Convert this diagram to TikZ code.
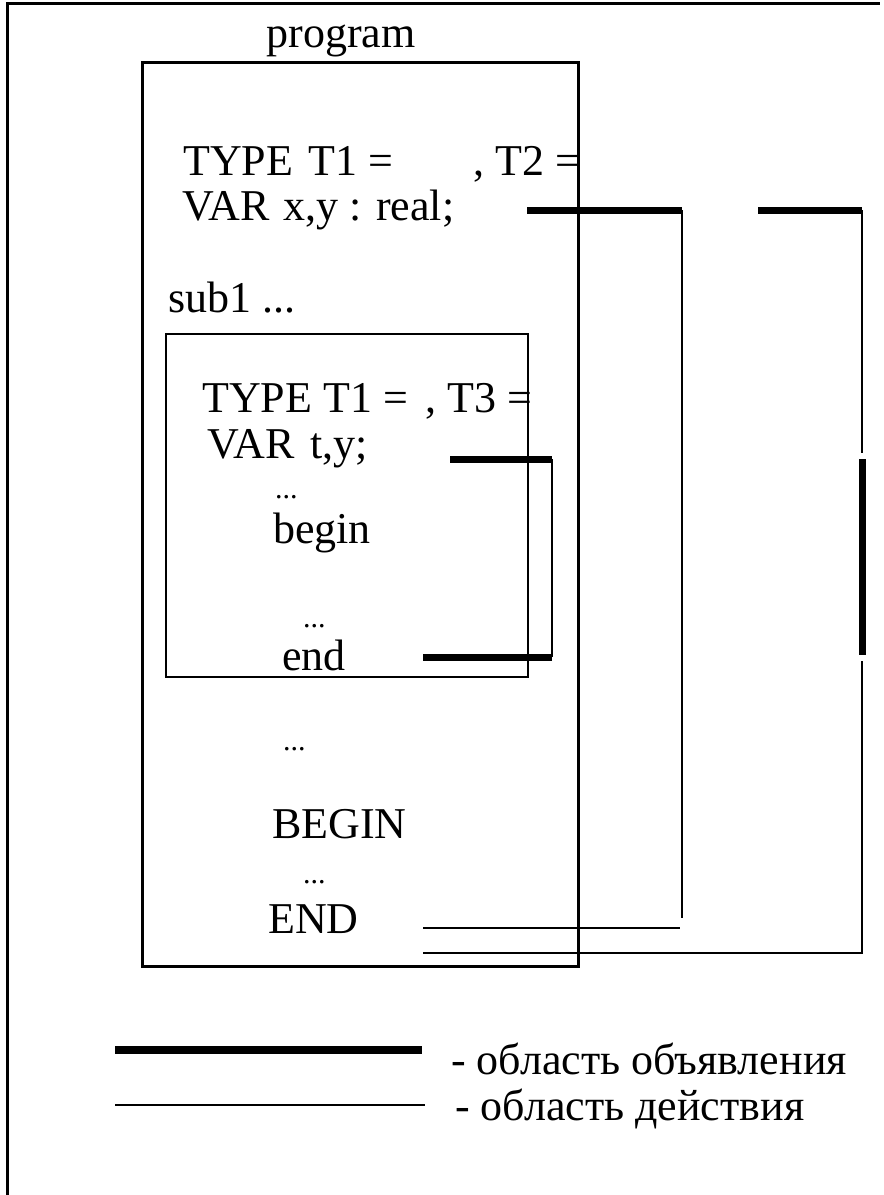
\documentclass[tikz,border=0pt]{standalone}
\usepackage{fontspec}
\setmainfont{Liberation Serif}
\tikzset{
  code/.style={anchor=base west, inner sep=0pt, font=\fontsize{44}{50}\selectfont},
  dots/.style={anchor=base west, inner sep=0pt, font=\fontsize{30}{36}\selectfont},
  legend/.style={anchor=base west, inner sep=0pt, text height=0.7em, text depth=0.15em,
    font=\fontsize{44}{50}\selectfont},
  frameline/.style={line width=3pt},
  declline/.style={line width=7pt},
  actline/.style={line width=1.6pt}
}
\begin{document}
\begin{tikzpicture}[x=1pt, y=-1pt]
  \useasboundingbox (0,0) rectangle (884,1195);
  % page frame
  \draw[frameline] (7,1195) -- (7,3) -- (880,3);
  % main program block
  \node[code, anchor=base] (prog) at (341,47) {program};
  \draw[frameline] (142,62) rectangle (578,966);
  \node[code] (type1) at (183,175) {TYPE};
  \node[code] (t1) at (308,175) {T1 =};
  \node[code] (t2) at (473,175) {, T2 =};
  \node[code] (var1) at (182,220) {VAR};
  \node[code] (xy) at (283,220) {x,y : real;};
  \node[code] (sub) at (168,312) {sub1 ...};
  % procedure block
  \draw[line width=2.5pt] (166,334) rectangle (528,677);
  \node[code] (type2) at (202,412) {TYPE T1 =};
  \node[code] (t3) at (425,412) {, T3 =};
  \node[code] (var2) at (207,458) {VAR};
  \node[code] (ty) at (310,458) {t,y;};
  \node[dots] (dotsa) at (275,498) {...};
  \node[code] (begin) at (273,543) {begin};
  \node[dots] (dotsb) at (303,627) {...};
  \node[code] (end) at (282,670) {end};
  \node[dots] (dotsc) at (283,750) {...};
  \node[code] (Begin) at (272,838) {BEGIN};
  \node[dots] (dotsd) at (303,883) {...};
  \node[code] (End) at (268,933) {END};
  % scope of x
  \coordinate (xa) at (527,210);
  \coordinate (xb) at (682,210);
  \coordinate (xc) at (682,918);
  \coordinate (xd) at (423,928);
  \coordinate (xe) at (680,928);
  \draw[declline] (xa) -- (xb);
  \draw[actline] (xb) -- (xc);
  \draw[actline] (xd) -- (xe);
  % scope of y
  \coordinate (ya) at (758,210);
  \coordinate (yb) at (862,210);
  \coordinate (yc) at (862,453);
  \coordinate (yd) at (862,459);
  \coordinate (ye) at (862,655);
  \coordinate (yf) at (862,661);
  \coordinate (yg) at (862,953);
  \coordinate (yh) at (423,953);
  \draw[declline] (ya) -- (yb);
  \draw[actline] (yb) -- (yc);
  \draw[declline] (yd) -- (ye);
  \draw[actline] (yf) -- (yg) -- (yh);
  % scope of t,y in sub1
  \coordinate (ta) at (450,459);
  \coordinate (tb) at (552,459);
  \coordinate (tc) at (552,657);
  \coordinate (td) at (423,657);
  \draw[declline] (ta) -- (tb);
  \draw[actline] (tb) -- (tc);
  \draw[declline] (tc) -- (td);
  % legend
  \coordinate (la) at (115,1050);
  \coordinate (lb) at (422,1050);
  \coordinate (lc) at (115,1105);
  \coordinate (ld) at (425,1105);
  \draw[line width=8pt] (la) -- (lb);
  \draw[line width=1.2pt] (lc) -- (ld);
  \node[legend] (decl) at (451,1074) {- область объявления};
  \node[legend] (act) at (455,1120) {- область действия};
\end{tikzpicture}
\end{document}
